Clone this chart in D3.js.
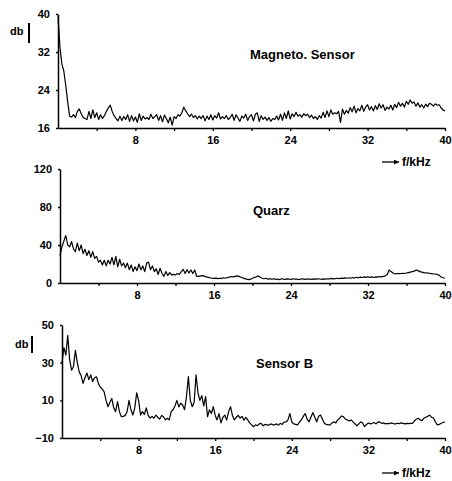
<!DOCTYPE html>
<html><head><meta charset="utf-8">
<script src="https://cdn.jsdelivr.net/npm/d3@7"></script>
<style>
body{margin:0;background:#fff}
svg{display:block}
text{font-family:"Liberation Sans",Arial,sans-serif;fill:#000;font-weight:bold}
</style>
</head><body><svg id="c" width="452" height="481"></svg>
<script>
// ---- data (frequency grid: 0 .. 40 kHz, step 0.2 kHz) ----
const freqStepKHz = 0.2;
const xTickValues = [4, 8, 12, 16, 20, 24, 28, 32, 36, 40];
const xLabelValues = [8, 16, 24, 32, 40];
const magnetoYTicks = [16, 24, 32, 40];
const quarzYTicks = [0, 40, 80, 120];
const sensorBYTicks = [-10, 10, 30, 50];
const titles = ["Magneto. Sensor", "Quarz", "Sensor B"];

const magneto = [
  39.5, 33, 29.5, 28, 25, 21.5, 18.5, 18.3, 18.8, 18.2,
  19.5, 20, 19, 18.2, 18, 17.8, 19.5, 18, 19.8, 18.2,
  19.2, 17.8, 18.8, 18, 18.6, 19.5, 20.2, 20.8, 19.5, 18.6,
  18, 17.5, 18.5, 17.6, 18.4, 17.8, 18.8, 17.4, 18.6, 17.5,
  18.3, 17.2, 19, 17.6, 18.5, 17.9, 18.2, 17.8, 18.9, 18,
  18.4, 18.8, 17.6, 18.6, 17.3, 18.7, 18, 17.1, 18.3, 16.6,
  18.4, 18, 18.8, 18.5, 19.2, 20.4, 19.6, 19, 18.4, 18.9,
  18.2, 18.6, 17.9, 18.5, 18, 18.6, 17.5, 18.5, 17.8, 18.8,
  17.7, 18.6, 18.1, 19.2, 17.9, 18.4, 18, 18.6, 17.8, 18.2,
  18.9, 17.6, 18.8, 18.1, 17.4, 18.5, 18.1, 18.9, 17.6, 18.4,
  18.8, 17.5, 18.9, 19.2, 17.4, 18.6, 17.8, 18.3, 17.6, 18.2,
  17.4, 18, 17.8, 18.5, 17.7, 18.9, 17.6, 19.2, 18, 19.6,
  17.9, 19, 18.4, 19.3, 18.5, 18.8, 18.3, 19, 18.6, 18.9,
  18.2, 18.7, 18, 18.4, 17.8, 18.6, 18.1, 19.3, 18.2, 19.6,
  18.4, 19.8, 18.9, 19.2, 19.0, 19.5, 17.2, 20, 18.9, 19.7,
  19.1, 20.3, 19.4, 20.6, 19.2, 20.1, 19.6, 20.8, 19.5, 20.4,
  20.9, 19.8, 20.5, 19.6, 20.7, 19.9, 21.1, 20.2, 20.9, 19.7,
  20.4, 20, 20.8, 19.8, 21, 20.3, 21.4, 20.6, 21.2, 20.4,
  21.6, 21, 21.9, 21.2, 21.5, 20.6, 21.3, 20.4, 20.9, 20.2,
  21, 20.5, 21.2, 21, 20.6, 21.1, 20.8, 20.9, 20.2, 19.8,
  19.6
];

const quarz = [
  29, 38, 44, 50, 40, 38, 43.5, 36, 33, 42,
  34, 40, 31, 35.5, 29, 34, 27, 33, 26, 28,
  22, 24, 19, 24, 18, 24, 20, 27, 19, 28,
  17, 25, 18, 21, 16, 21, 14, 19, 12, 17,
  13, 20, 14, 18, 12, 21, 22, 14, 18, 12,
  15, 9, 15.5, 10, 7, 12, 8, 11, 8.5, 9,
  8.4, 10, 9, 12, 14.4, 10, 14, 10.5, 13.7, 10,
  13.7, 7, 7, 7.5, 7.7, 7.2, 6.5, 6, 5.5, 5,
  4.9, 5.2, 4.6, 5, 4.8, 5.5, 5, 5.8, 6.2, 6.8,
  6.5, 7, 7.5, 7, 6, 5.2, 4.6, 4, 3.5, 4,
  5, 5.8, 6.5, 7.5, 6, 5, 4.5, 5, 4, 4.5,
  4, 4.5, 3.8, 4.2, 3.5, 4.5, 4, 3.8, 4.4, 4,
  3.8, 4.5, 4, 4.2, 3.6, 4, 4.5, 3.8, 4, 4.2,
  4, 3.8, 4.3, 4, 4.5, 4.2, 3.9, 4.4, 4.1, 4.5,
  4.2, 4.8, 4.3, 4.6, 5, 4.5, 5.2, 4.8, 5.4, 5,
  5.5, 5, 5.8, 5.2, 6, 5.5, 6.2, 5.8, 6.4, 6,
  6.6, 6, 6.4, 5.8, 6.5, 6.2, 6.8, 6.4, 7, 7.5,
  9, 13.7, 12, 10.5, 9.5, 10, 9.8, 10, 10.2, 10,
  10.5, 11, 11.5, 12, 12.5, 13.7, 13, 12, 11.5, 11,
  10.5, 10.8, 10, 9.8, 9.5, 9.5, 9, 8, 6.3, 5.5,
  5
];

const sensorB = [
  30, 38, 34, 44.5, 31.5, 26, 28, 36.5, 30, 25,
  23, 19, 22, 24.5, 21, 23.5, 20, 22, 22.5, 19,
  17, 16, 14.5, 10, 6.6, 9, 11, 6, 4, 9.3,
  4, 1.3, 1.5, 2, 4, 10, 5, 2.2, 6, 14,
  10, 2.2, 4, 2.5, 6, 2, 0.6, 1.5, 0.5, 2.2,
  1, 0, 2, 1.3, -0.4, 0.5, -0.4, 4, 5, 7,
  10, 6.5, 8.5, 7.5, 5, 12, 22.6, 10, 6.6, 9,
  23.5, 14, 10, 12.5, 7, 12, 1.3, 5, 3, 6.6,
  2, -0.4, 3, -2, 1, 2.2, -0.5, 4, 6.6, 2,
  -0.4, 1, 2, 0.6, 1.5, -0.5, 1, -0.4, -2, -3,
  -4, -3, -3.5, -2.5, -2.2, -3.5, -2.8, -3, -3.2, -2.5,
  -3, -3, -2.5, -3.2, -2.2, -2.8, -1.5, -1.5, -0.4, 3,
  -1.5, -2.5, -2.8, -3, -1.5, -0.4, 1.5, 3, 0, -1.4,
  1, 3.5, 1, -1.4, 1.5, 2.2, 0, -2.2, -2.8, -3,
  -3, -2, -1.4, -2, -0.4, 0.5, 1.7, 1.2, 0, -0.4,
  -1, -0.4, -1.4, -2.5, -3.5, -2.5, -1.4, -2, -4, -2.8,
  -2, -2.5, -2.2, -1.8, -2.5, -1.4, -1.6, -2.2, -2, -2.5,
  -2.2, -2.4, -2, -2.3, -2.6, -2.2, -2.4, -2, -2.2, -2.5,
  -2.2, -2.4, -2.2, -2.2, -1, 0, 0.5, -0.4, -0.8, 0.5,
  1, 1.5, 2.2, 1, 0.6, -1.5, -3, -2.8, -2.2, -1.8,
  -1.4
];

// ---- layout ----
const svg = d3.select("#c");
const panels = [
  {values: magneto, yTicks: magnetoYTicks, title: titles[0],
   xr: [58, 445], yr: [128, 14], titlePos: [250, 59],
   fk: 166, db: {x: 10, y: 35, bx: 29, by0: 23, by1: 43}},
  {values: quarz, yTicks: quarzYTicks, title: titles[1],
   xr: [60, 445], yr: [283, 169], titlePos: [253, 215]},
  {values: sensorB, yTicks: sensorBYTicks, title: titles[2],
   xr: [62, 445], yr: [438, 325], titlePos: [256, 368],
   fk: 477, db: {x: 15, y: 348, bx: 32, by0: 336, by1: 353}}
];

svg.append("defs").append("marker")
  .attr("id", "arr").attr("viewBox", "0 0 10 10").attr("refX", 10).attr("refY", 5)
  .attr("markerWidth", 7).attr("markerHeight", 5).attr("orient", "auto")
  .attr("markerUnits", "userSpaceOnUse")
  .append("path").attr("d", "M0,0L10,5L0,10Z").attr("fill", "#000");

panels.forEach(p => {
  const yd = d3.extent(p.yTicks);
  const x = d3.scaleLinear().domain([0, 40]).range(p.xr);
  const y = d3.scaleLinear().domain(yd).range(p.yr);
  const g = svg.append("g");

  // x axis
  const xa = g.append("g").attr("transform", `translate(0,${p.yr[0]})`)
    .call(d3.axisBottom(x).tickValues(xTickValues).tickSize(3).tickSizeOuter(0)
      .tickPadding(5).tickFormat(d => xLabelValues.includes(d) ? d : ""));
  xa.select(".domain").attr("stroke", "#000").attr("stroke-width", 1.5);
  xa.selectAll(".tick line").attr("stroke", "#000").attr("stroke-width", 1.3);
  xa.selectAll(".tick text").attr("font-size", 11).attr("font-family", "Liberation Sans, Arial, sans-serif")
    .attr("font-weight", "bold").attr("fill", "#000");

  // y axis
  const ya = g.append("g").attr("transform", `translate(${p.xr[0]},0)`)
    .call(d3.axisLeft(y).tickValues(p.yTicks).tickSize(2).tickSizeOuter(0).tickPadding(6));
  ya.select(".domain").attr("stroke", "#000").attr("stroke-width", 1.5);
  ya.selectAll(".tick line").attr("stroke", "#000").attr("stroke-width", 1.3);
  ya.selectAll(".tick text").attr("font-size", 11).attr("font-family", "Liberation Sans, Arial, sans-serif")
    .attr("font-weight", "bold").attr("fill", "#000");

  // data line
  const line = d3.line().x((d, i) => x(i * freqStepKHz)).y(d => y(d));
  g.append("path").datum(p.values).attr("d", line)
    .attr("fill", "none").attr("stroke", "#000").attr("stroke-width", 1.2)
    .attr("stroke-linejoin", "round");

  // title
  g.append("text").attr("x", p.titlePos[0]).attr("y", p.titlePos[1])
    .attr("font-size", 13).text(p.title);

  // f/kHz label
  if (p.fk) {
    g.append("line").attr("x1", 382).attr("x2", 399).attr("y1", p.fk - 4).attr("y2", p.fk - 4)
      .attr("stroke", "#000").attr("stroke-width", 1.3).attr("marker-end", "url(#arr)");
    g.append("text").attr("x", 402).attr("y", p.fk).attr("font-size", 12).text("f/kHz");
  }
  // db label
  if (p.db) {
    g.append("text").attr("x", p.db.x).attr("y", p.db.y).attr("font-size", 11).text("db");
    g.append("line").attr("x1", p.db.bx).attr("x2", p.db.bx).attr("y1", p.db.by0).attr("y2", p.db.by1)
      .attr("stroke", "#000").attr("stroke-width", 2);
  }
});
</script>
</body></html>
